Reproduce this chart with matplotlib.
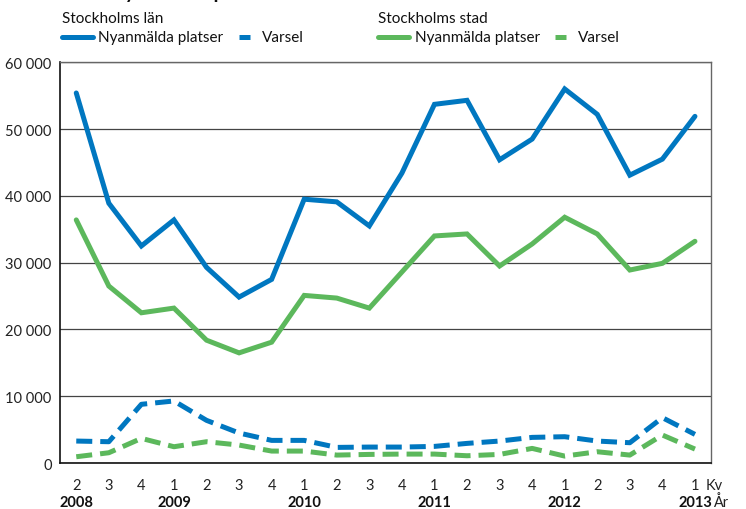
import matplotlib.pyplot as plt
from matplotlib import font_manager
from matplotlib.lines import Line2D
from matplotlib.ticker import FuncFormatter

quarters = ['2', '3', '4', '1', '2', '3', '4', '1', '2', '3', '4',
            '1', '2', '3', '4', '1', '2', '3', '4', '1']
years = ['2008', '2009', '2010', '2011', '2012', '2013']
year_pos = [0, 3, 7, 11, 15, 19]

lan_platser = [55400, 38900, 32500, 36400, 29300, 24850, 27500, 39500, 39100, 35500,
               43400, 53700, 54300, 45400, 48500, 56000, 52200, 43100, 45500, 51900]
stad_platser = [36400, 26500, 22500, 23200, 18400, 16500, 18100, 25100, 24700, 23200,
                28600, 34000, 34300, 29500, 32800, 36800, 34300, 28900, 29900, 33200]
lan_varsel = [3300, 3200, 8800, 9300, 6400, 4500, 3400, 3400, 2350, 2400,
              2400, 2500, 2950, 3300, 3850, 3950, 3300, 3050, 6800, 4300]
stad_varsel = [950, 1550, 3700, 2450, 3200, 2700, 1800, 1800, 1200, 1300,
               1350, 1350, 1100, 1300, 2200, 1050, 1700, 1200, 4200, 2100]

blue = '#0077c0'
green = '#5cb85c'

# narrow font if there is one, otherwise Lato
fam = 'Lato'
try:
    font_manager.findfont('Liberation Sans Narrow', fallback_to_default=False)
    fam = 'Liberation Sans Narrow'
except Exception:
    pass
plt.rcParams['font.family'] = [fam, 'DejaVu Sans']

fig = plt.figure(figsize=(7.46, 5.10), dpi=100)
ax = fig.add_axes([0.0804, 0.090, 0.873, 0.786])

x = list(range(len(quarters)))
lw = 3.6
dash = (3.2, 1.6)
ax.plot(x, lan_platser, color=blue, lw=lw, solid_capstyle='round', solid_joinstyle='miter')
ax.plot(x, lan_varsel, color=blue, lw=lw, dashes=dash, dash_capstyle='butt')
ax.plot(x, stad_platser, color=green, lw=lw, solid_capstyle='round', solid_joinstyle='miter')
ax.plot(x, stad_varsel, color=green, lw=lw, dashes=dash, dash_capstyle='butt')

ax.set_xlim(-0.5, 19.5)
ax.set_ylim(0, 60000)
ax.set_yticks(range(0, 60001, 10000))
ax.yaxis.set_major_formatter(FuncFormatter(lambda v, p: f'{int(v):,}'.replace(',', ' ')))
ax.grid(axis='y', color='#444444', lw=0.9)
ax.set_axisbelow(True)
ax.tick_params(axis='y', length=0, labelsize=10.5, colors='#222222', pad=6)
ax.set_xticks(x)
ax.set_xticklabels(quarters)
ax.tick_params(axis='x', length=0, labelsize=10.5, colors='#222222', pad=11)
for s in ['left', 'bottom']:
    ax.spines[s].set_color('#111111')
    ax.spines[s].set_linewidth(1.2)
for s in ['top', 'right']:
    ax.spines[s].set_color('#666666')
    ax.spines[s].set_linewidth(1.0)

xt = ax.get_xaxis_transform()
for yp, yr in zip(year_pos, years):
    ax.text(yp, -0.097, yr, transform=xt, ha='center', va='center',
            fontsize=10.5, fontweight='bold', color='#111111')
ax.text(19.33, -0.054, 'Kv', transform=xt, ha='left', va='center', fontsize=10.5, color='#222222')
ax.text(19.55, -0.097, 'År', transform=xt, ha='left', va='center', fontsize=10.5, color='#222222')

fig.text(0.083, 1.012, 'Antal nyanmälda platser och varsel', ha='left', va='center',
         fontsize=14, fontweight='bold', color='#111111')

# legend
fig.text(0.083, 0.963, 'Stockholms län', ha='left', va='center', fontsize=11, color='#111111')
fig.text(0.507, 0.963, 'Stockholms stad', ha='left', va='center', fontsize=11, color='#111111')
ly = 0.925
renderer = fig.canvas.get_renderer()
inv = fig.transFigure.inverted()
items = [(0.083, 0.041, blue, None, 'Nyanmälda platser'),
         (None, 0.023, blue, True, 'Varsel'),
         (0.507, 0.041, green, None, 'Nyanmälda platser'),
         (None, 0.023, green, True, 'Varsel')]
cur = 0.083
for x0, w, c, d, lab in items:
    if x0 is not None:
        cur = x0
    ln = Line2D([cur, cur + w], [ly, ly], color=c, lw=lw, transform=fig.transFigure,
                solid_capstyle='round')
    if d:
        ln.set_dashes((2.2, 1.3))
    fig.add_artist(ln)
    t = fig.text(cur + w + 0.008, ly, lab, ha='left', va='center', fontsize=11, color='#111111')
    bb = t.get_window_extent(renderer)
    cur = inv.transform((bb.x1, 0))[0] + 0.02

fig.savefig('out.png', dpi=100)
